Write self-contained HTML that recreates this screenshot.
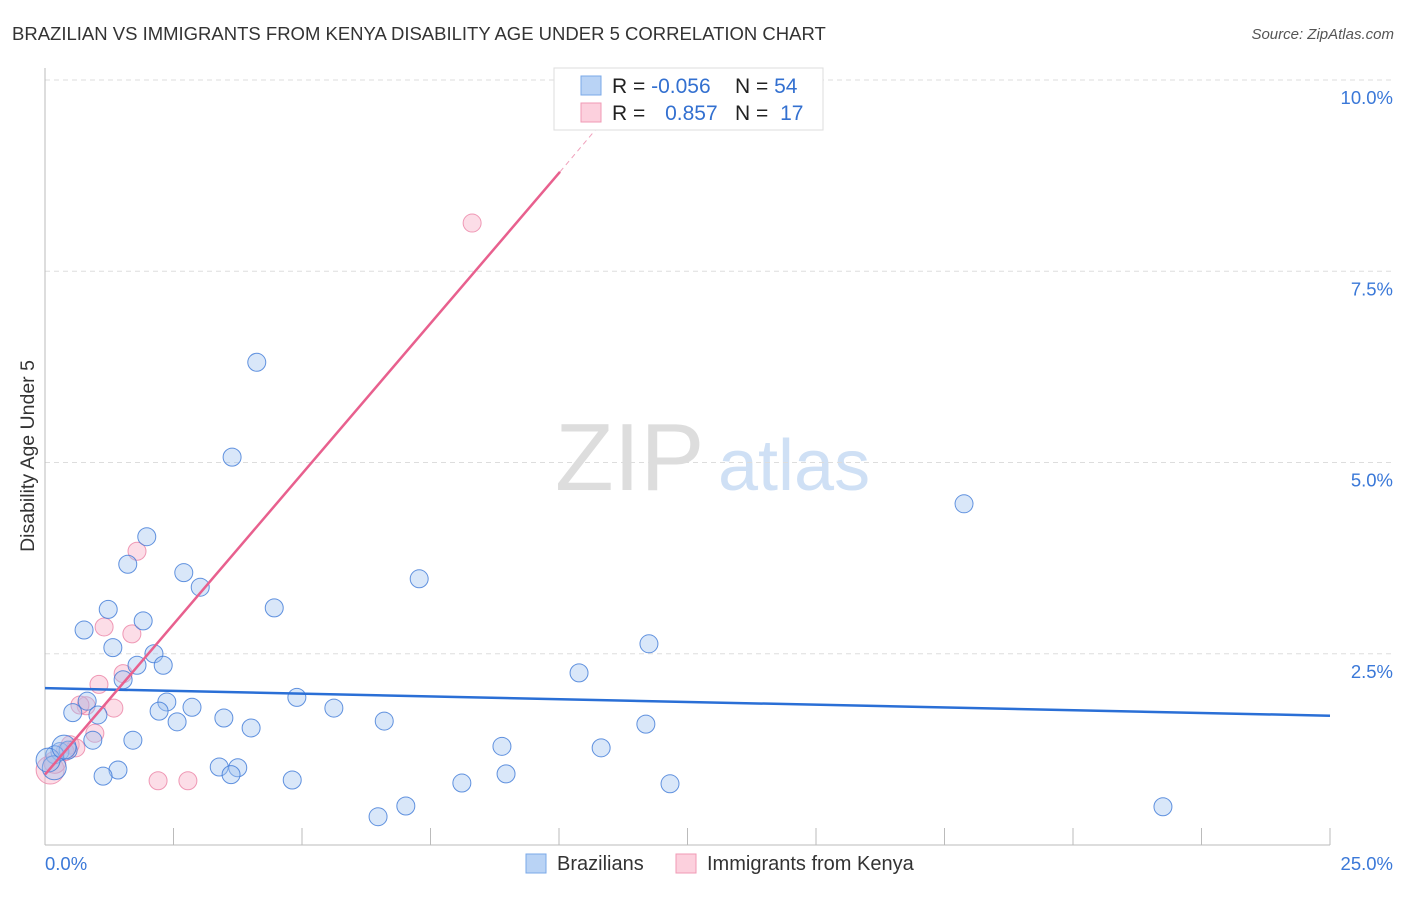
<!DOCTYPE html>
<html><head><meta charset="utf-8"><style>
body{margin:0;background:#fff;font-family:"Liberation Sans",sans-serif;}
svg text{font-family:"Liberation Sans",sans-serif;}
</style></head><body>
<svg id="chart" width="1406" height="892" xmlns="http://www.w3.org/2000/svg">
<text x="12" y="40" font-size="18.5" fill="#333">BRAZILIAN VS IMMIGRANTS FROM KENYA DISABILITY AGE UNDER 5 CORRELATION CHART</text>
<text x="1394" y="39" font-size="15" fill="#555" text-anchor="end" font-style="italic">Source: ZipAtlas.com</text>
<text x="34" y="456" font-size="19.5" fill="#333" text-anchor="middle" transform="rotate(-90 34 456)">Disability Age Under 5</text>
<g><text x="555" y="490" font-size="96" fill="#ddd" font-family="Liberation Serif">ZIP</text><text x="718" y="490" font-size="72" fill="#cfe0f5">atlas</text></g>
<g id="grid"></g><g id="axes"></g><g id="pts"></g><g id="lines"></g>
<g>
<rect x="554" y="68" width="269" height="62" fill="#fff" stroke="#ddd"/>
<rect x="581" y="76" width="20" height="19" fill="#b9d3f5" stroke="#7aa8e8"/>
<rect x="581" y="103" width="20" height="19" fill="#fcd0dd" stroke="#f09ab5"/>
<text x="612" y="93" font-size="21" fill="#222">R = <tspan fill="#3370d0">-0.056</tspan></text>
<text x="735" y="93" font-size="21" fill="#222">N = <tspan fill="#3370d0">54</tspan></text>
<text x="612" y="120" font-size="21" fill="#222">R = <tspan fill="#3370d0" dx="14">0.857</tspan></text>
<text x="735" y="120" font-size="21" fill="#222">N = <tspan fill="#3370d0" dx="6">17</tspan></text>
</g>
<g>
<rect x="526" y="854" width="20" height="19" fill="#b9d3f5" stroke="#7aa8e8"/>
<text x="557" y="870" font-size="20" fill="#333">Brazilians</text>
<rect x="676" y="854" width="20" height="19" fill="#fcd0dd" stroke="#f09ab5"/>
<text x="707" y="870" font-size="20" fill="#333">Immigrants from Kenya</text>
</g>
</svg>
<script>
const yTicks=[2.5,5.0,7.5,10.0];
const yTickLabels=["2.5%","5.0%","7.5%","10.0%"];
const xTicks=[0,2.5,5,7.5,10,12.5,15,17.5,20,22.5,25];
const blueX=[4.12,3.64,1.98,1.61,2.70,3.02,7.28,1.23,4.46,0.76,1.91,1.32,2.12,1.79,2.30,1.52,17.88,11.75,10.39,4.90,0.82,2.37,2.86,2.22,5.62,0.54,1.03,2.57,3.48,6.60,4.01,11.69,0.93,1.71,8.89,10.82,0.29,0.45,0.19,3.39,3.75,1.42,1.13,3.62,4.81,8.97,8.11,12.16,7.02,6.48,21.75,0.18,0.06,0.37];
const blueY=[6.31,5.07,4.03,3.67,3.56,3.37,3.48,3.08,3.10,2.81,2.93,2.58,2.50,2.35,2.35,2.16,4.46,2.63,2.25,1.93,1.88,1.87,1.80,1.75,1.79,1.73,1.70,1.61,1.66,1.62,1.53,1.58,1.37,1.37,1.29,1.27,1.22,1.24,1.18,1.02,1.01,0.98,0.90,0.92,0.85,0.93,0.81,0.80,0.51,0.37,0.50,1.01,1.11,1.28];
const pinkX=[8.31,1.79,1.15,1.69,1.52,1.05,1.34,0.80,0.97,0.49,0.60,2.20,2.78,0.10,0.19,0.39,0.68];
const pinkY=[8.13,3.84,2.85,2.76,2.24,2.10,1.79,1.82,1.46,1.31,1.27,0.84,0.84,0.98,1.08,1.22,1.83];
const blueTrend=[2.05,1.69];
const pinkTrend=[0.92,8.80,9.42];
const pinkTrendX=[0,10.02,10.8];
const X=v=>45+v*51.4, Y=v=>845-v*76.5;
const NS="http://www.w3.org/2000/svg";
function mk(t,a,p){const e=document.createElementNS(NS,t);for(const k in a)e.setAttribute(k,a[k]);p.appendChild(e);return e;}
const grid=document.getElementById('grid'),axes=document.getElementById('axes'),pts=document.getElementById('pts'),lines=document.getElementById('lines');
yTicks.forEach((t,i)=>{
 const l=mk('line',{x1:45,x2:1394,y1:Y(t),y2:Y(t),stroke:'#ddd','stroke-dasharray':'5,4'},grid);
 
 
 const tx=mk('text',{x:1393,y:Y(t)+24,'font-size':18.5,fill:'#3a78d8','text-anchor':'end'},grid);
 tx.textContent=yTickLabels[i];
 
 
});
const ax=mk('line',{x1:45,x2:45,y1:68,y2:845,stroke:'#bbb'},axes);


const bx=mk('line',{x1:45,x2:1330,y1:845,y2:845,stroke:'#bbb'},axes);


xTicks.forEach(t=>{
 const l=mk('line',{x1:X(t),x2:X(t),y1:828,y2:845,stroke:'#bbb'},axes);
 
 
});
const x0=mk('text',{x:45,y:870,'font-size':18.5,fill:'#3a78d8'},axes);x0.textContent=xTicks[0].toFixed(1)+'%';


const x1=mk('text',{x:1393,y:870,'font-size':18.5,fill:'#3a78d8','text-anchor':'end'},axes);x1.textContent=xTicks[xTicks.length-1].toFixed(1)+'%';


pinkX.forEach((v,i)=>{
 const r=i===13?14:(i===14?11:9);
 const c=mk('circle',{cx:X(v),cy:Y(pinkY[i]),r:r,fill:'rgba(248,170,195,0.4)',stroke:'rgba(235,130,165,0.8)','stroke-width':1},pts);
 
 
});
blueX.forEach((v,i)=>{
 const r=i>=51?12:9;
 const c=mk('circle',{cx:X(v),cy:Y(blueY[i]),r:r,fill:'rgba(160,195,240,0.4)',stroke:'rgba(60,120,215,0.8)','stroke-width':1},pts);
 
 
});
const bl=mk('line',{x1:X(0),y1:Y(blueTrend[0]),x2:X(25),y2:Y(blueTrend[1]),stroke:'#2a6fd6','stroke-width':2.5},lines);


const pl=mk('line',{x1:X(pinkTrendX[0]),y1:Y(pinkTrend[0]),x2:X(pinkTrendX[1]),y2:Y(pinkTrend[1]),stroke:'#e8608e','stroke-width':2.5},lines);


const pd=mk('line',{x1:X(pinkTrendX[1]),y1:Y(pinkTrend[1]),x2:X(pinkTrendX[2]),y2:Y(pinkTrend[2]),stroke:'#f0a0bb','stroke-width':1,'stroke-dasharray':'5,4'},lines);


</script>
</body></html>
